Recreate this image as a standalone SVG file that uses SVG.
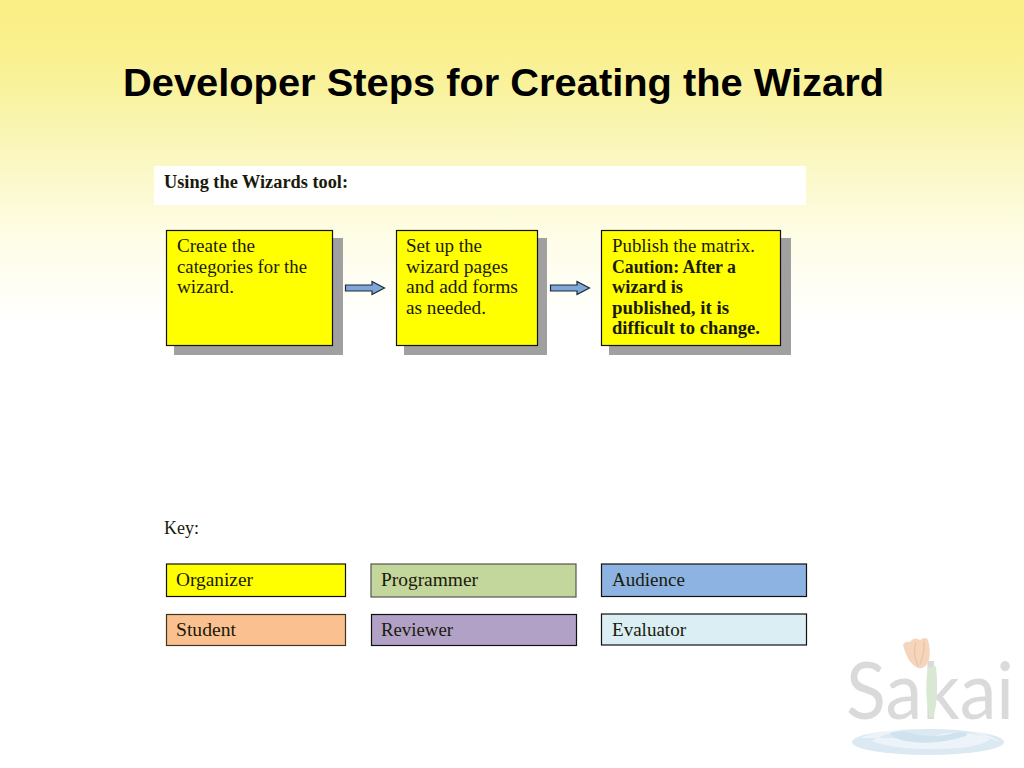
<svg xmlns="http://www.w3.org/2000/svg" width="1024" height="768" viewBox="0 0 1024 768">
<style>
.t{font-family:"Liberation Serif","DejaVu Serif",serif;font-size:18px;fill:#1a1a0a}
.b{font-weight:bold}
.box{stroke:#111;stroke-width:1.2}
.sh{fill:#a0a0a0}
.y{fill:#ffff00}
.arr{fill:#7ea6d6;stroke:#1a2a3a;stroke-width:1.2}
</style>
<defs>
<linearGradient id="bg" x1="0" y1="0" x2="0" y2="1">
<stop offset="0" stop-color="#faee85"/>
<stop offset="0.16" stop-color="#faf08e"/>
<stop offset="0.32" stop-color="#f9f3a4"/>
<stop offset="0.53" stop-color="#fbf8c8"/>
<stop offset="0.75" stop-color="#fefde8"/>
<stop offset="1" stop-color="#ffffff"/>
</linearGradient>
<filter id="soft" x="-5%" y="-5%" width="110%" height="110%"><feGaussianBlur stdDeviation="0.7"/></filter>
</defs>
<rect width="1024" height="768" fill="#fff"/>
<rect width="1024" height="322" fill="url(#bg)"/>
<text id="title" x="123" y="96" font-family="Liberation Sans,Arial,sans-serif" font-weight="bold" font-size="38.5px" fill="#000" textLength="761" lengthAdjust="spacingAndGlyphs">Developer Steps for Creating the Wizard</text>
<g id="header">
<rect x="154" y="166" width="652" height="39" fill="#fff"/>
<text class="t b" x="164" y="187.500" textLength="184" lengthAdjust="spacingAndGlyphs">Using the Wizards tool:</text>
</g>
<g id="connectors">
<path id="c1" class="arr" d="M345.500 285H372V281.500L384.500 288L372 294.500V291H345.500Z"/>
<path id="c2" class="arr" d="M550.500 285H577V281.500L589.500 288L577 294.500V291H550.500Z"/>
</g>
<g id="step1">
<rect class="sh" x="174" y="238" width="169" height="117"/>
<rect class="box y" x="166.500" y="230.500" width="166" height="115"/>
<text class="t" x="177" y="251.500" textLength="78" lengthAdjust="spacingAndGlyphs">Create the</text>
<text class="t" x="177" y="272.500" textLength="130" lengthAdjust="spacingAndGlyphs">categories for the</text>
<text class="t" x="177" y="292.500" textLength="57" lengthAdjust="spacingAndGlyphs">wizard.</text>
</g>
<g id="step2">
<rect class="sh" x="404" y="238" width="143" height="117"/>
<rect class="box y" x="396.500" y="230.500" width="141" height="115"/>
<text class="t" x="406" y="251.500" textLength="76" lengthAdjust="spacingAndGlyphs">Set up the</text>
<text class="t" x="406" y="272.500" textLength="102" lengthAdjust="spacingAndGlyphs">wizard pages</text>
<text class="t" x="406" y="292.500" textLength="112" lengthAdjust="spacingAndGlyphs">and add forms</text>
<text class="t" x="406" y="313.500" textLength="80" lengthAdjust="spacingAndGlyphs">as needed.</text>
</g>
<g id="step3">
<rect class="sh" x="609" y="238" width="182" height="117"/>
<rect class="box y" x="601.500" y="230.500" width="179" height="115"/>
<text class="t" x="612" y="251.500" textLength="143" lengthAdjust="spacingAndGlyphs">Publish the matrix.</text>
<text class="t b" x="612" y="272.500" textLength="124" lengthAdjust="spacingAndGlyphs">Caution: After a</text>
<text class="t b" x="612" y="292.500" textLength="71" lengthAdjust="spacingAndGlyphs">wizard is</text>
<text class="t b" x="612" y="313.500" textLength="117" lengthAdjust="spacingAndGlyphs">published, it is</text>
<text class="t b" x="612" y="333.500" textLength="148" lengthAdjust="spacingAndGlyphs">difficult to change.</text>
</g>
<text class="t" x="164" y="533.500" textLength="35" lengthAdjust="spacingAndGlyphs">Key:</text>
<g id="key-organizer"><rect class="box y" x="166.500" y="564" width="179" height="32.500"/><text class="t" x="176" y="585.500" textLength="77" lengthAdjust="spacingAndGlyphs">Organizer</text></g>
<g id="key-programmer"><rect class="box" fill="#c3d69b" style="stroke:#555" x="371" y="564" width="205" height="33"/><text class="t" x="381" y="585.500" textLength="97" lengthAdjust="spacingAndGlyphs">Programmer</text></g>
<g id="key-audience"><rect class="box" fill="#8db3e2" x="601.500" y="564" width="205" height="32.500"/><text class="t" x="612" y="585.500" textLength="73" lengthAdjust="spacingAndGlyphs">Audience</text></g>
<g id="key-student"><rect class="box" fill="#fac08f" style="stroke:#443322" x="166.500" y="614.500" width="179" height="31"/><text class="t" x="176" y="635.500" textLength="60" lengthAdjust="spacingAndGlyphs">Student</text></g>
<g id="key-reviewer"><rect class="box" fill="#b2a1c7" x="371.500" y="614.500" width="205" height="31"/><text class="t" x="381" y="635.500" textLength="72" lengthAdjust="spacingAndGlyphs">Reviewer</text></g>
<g id="key-evaluator"><rect class="box" fill="#dbeef4" x="601.500" y="614" width="205" height="31"/><text class="t" x="612" y="635.500" textLength="74" lengthAdjust="spacingAndGlyphs">Evaluator</text></g>
<g id="logo">
<text x="846" y="719" font-family="Lato,'Open Sans',sans-serif" font-size="80px" fill="#dadada" textLength="168" lengthAdjust="spacingAndGlyphs">Sakai</text>
<g filter="url(#soft)">
<path d="M929 716Q924 690 928 668L936 666Q939 695 934 716Q931 719 929 716Z" fill="#d8e8d2"/>
<path d="M903 645Q905 641 910 642Q914 636 920 640Q926 636 928 640Q931 650 929 660Q925 670 918 668Q908 664 903 645Z" fill="#f5d5bb"/>
<path d="M916 642Q912 652 918 666M924 641Q925 652 920 664" fill="none" stroke="#ecc3a2" stroke-width="1.2"/>
<ellipse cx="928" cy="742" rx="76" ry="13" fill="#dbe9f2"/>
<path d="M860 738Q885 728 915 727Q885 733 872 741Q900 752 960 748Q985 745 990 739Q970 730 945 727Q985 730 1000 742Q960 726 928 738Z" fill="#fff" opacity="0.5"/>
<path d="M890 733Q905 730 915 734Q935 739 958 732Q970 732 966 736Q935 746 905 741Q893 738 890 733Z" fill="#d0e2ee"/>
</g>
</g>
</svg>
